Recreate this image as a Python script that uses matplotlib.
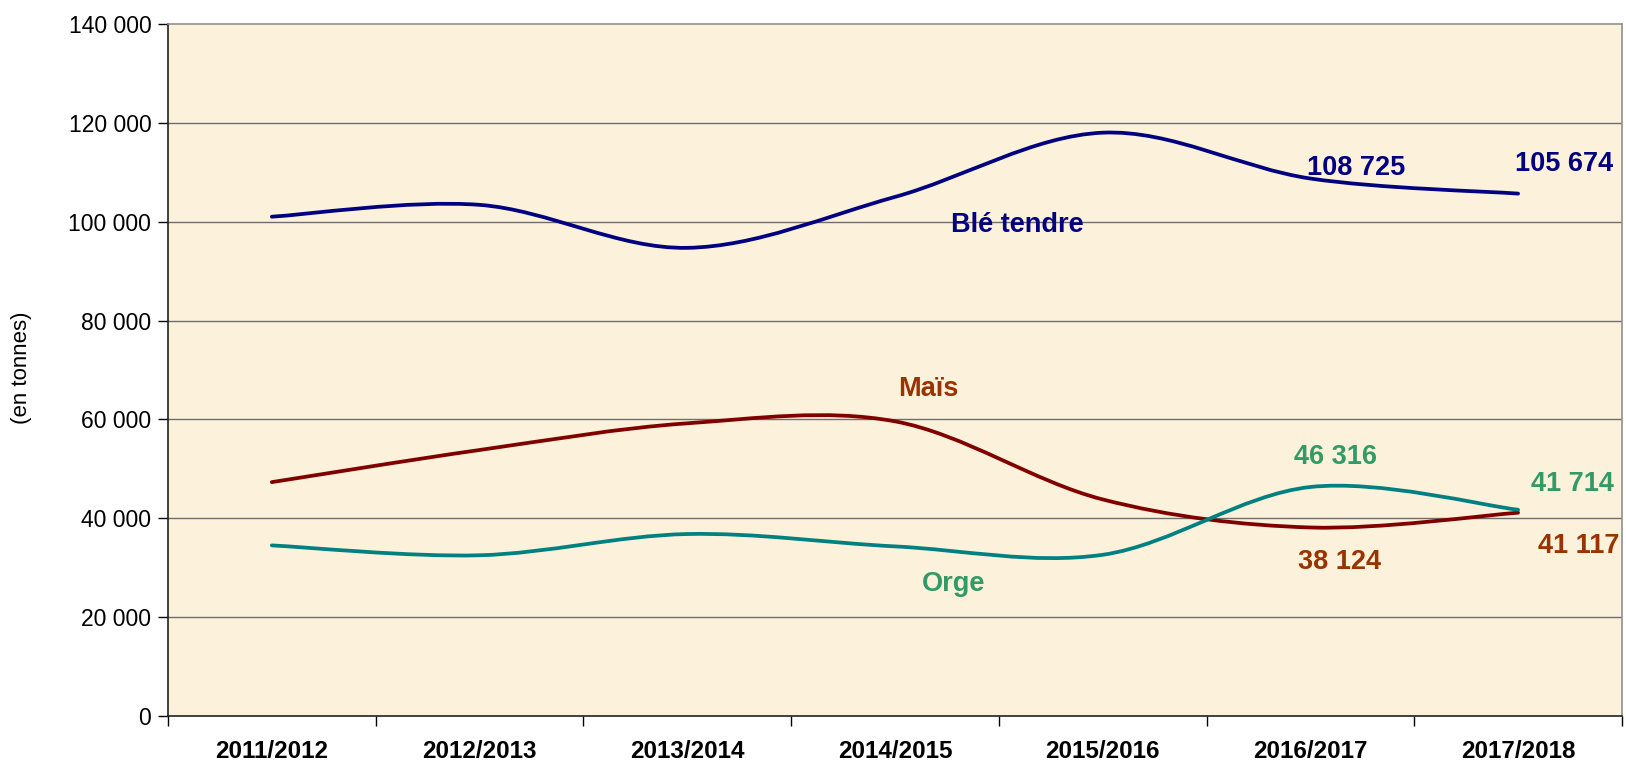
import numpy as np
import matplotlib.pyplot as plt
from matplotlib.path import Path
from matplotlib.patches import PathPatch

campagnes = ['2011/2012', '2012/2013', '2013/2014', '2014/2015',
             '2015/2016', '2016/2017', '2017/2018']
ble = [101000, 103400, 94700, 105000, 118000, 108725, 105674]
mais = [47300, 53800, 59200, 59600, 43800, 38124, 41117]
orge = [34500, 32500, 36800, 34300, 32600, 46316, 41714]
y_ticks = [0, 20000, 40000, 60000, 80000, 100000, 120000, 140000]

plt.rcParams['font.family'] = ['Liberation Sans', 'DejaVu Sans']


def smooth_path(xs, ys):
    """
    builds an Excel-like smoothed bezier path through the points
    """
    pts = np.column_stack([xs, ys]).astype(float)
    n = len(pts)
    verts = [pts[0]]
    codes = [Path.MOVETO]
    for i in range(n - 1):
        p_prev = pts[max(i - 1, 0)]
        p_next2 = pts[min(i + 2, n - 1)]
        c1 = pts[i] + (pts[i + 1] - p_prev) / 6
        c2 = pts[i + 1] - (p_next2 - pts[i]) / 6
        verts += [c1, c2, pts[i + 1]]
        codes += [Path.CURVE4] * 3
    return Path(verts, codes)


def fmt(v):
    return '{:,}'.format(int(v)).replace(',', ' ')


fig = plt.figure(figsize=(16.26, 7.6), dpi=100)
ax = fig.add_axes([0.1033, 0.058, 0.8942, 0.9105])
ax.set_facecolor('#FCF1DA')

x = np.arange(len(campagnes))
series = [(ble, '#000080'), (mais, '#800000'), (orge, '#008080')]
for values, col in series:
    ax.add_patch(PathPatch(smooth_path(x, values), facecolor='none',
                           edgecolor=col, lw=2.7, capstyle='round', zorder=3))

ax.set_xlim(-0.5, len(campagnes) - 0.5)
ax.set_ylim(0, 140000)
for v in y_ticks[1:-1]:
    ax.axhline(v, color='#6E6E6E', lw=1, zorder=1)

ax.set_yticks(y_ticks)
ax.set_yticklabels([fmt(v) for v in y_ticks], fontsize=16.5)
ax.set_xticks(x)
ax.set_xticklabels(campagnes, fontsize=17.5, fontweight='bold')
ax.set_xticks(np.arange(len(campagnes) + 1) - 0.5, minor=True)
ax.tick_params(axis='x', which='major', length=0, pad=17)
ax.tick_params(axis='x', which='minor', length=7, width=1, direction='out')
ax.tick_params(axis='y', length=7, width=1, direction='out', pad=5)

for side in ['left', 'bottom']:
    ax.spines[side].set_color('#202020')
    ax.spines[side].set_linewidth(1.2)
for side in ['top', 'right']:
    ax.spines[side].set_color('#909090')
    ax.spines[side].set_linewidth(1.2)

fig.text(21 / 1626, 1 - 368 / 760, '(en tonnes)', rotation=90,
         ha='center', va='center', fontsize=16)

lab = dict(fontsize=19.5, fontweight='bold', ha='center', va='center', zorder=4)
ax.text(3.59, 99300, 'Blé tendre', color='#000080', **lab)
ax.text(5.22, 110900, fmt(ble[5]), color='#000080', **lab)
ax.text(6.22, 111600, fmt(ble[6]), color='#000080', **lab)
ax.text(3.16, 66200, 'Maïs', color='#993300', **lab)
ax.text(5.14, 31200, fmt(mais[5]), color='#993300', **lab)
ax.text(6.29, 34400, fmt(mais[6]), color='#993300', clip_on=False, **lab)
ax.text(3.28, 26700, 'Orge', color='#339966', **lab)
ax.text(5.12, 52400, fmt(orge[5]), color='#339966', **lab)
ax.text(6.26, 46900, fmt(orge[6]), color='#339966', **lab)

fig.savefig('out.png', dpi=100)
